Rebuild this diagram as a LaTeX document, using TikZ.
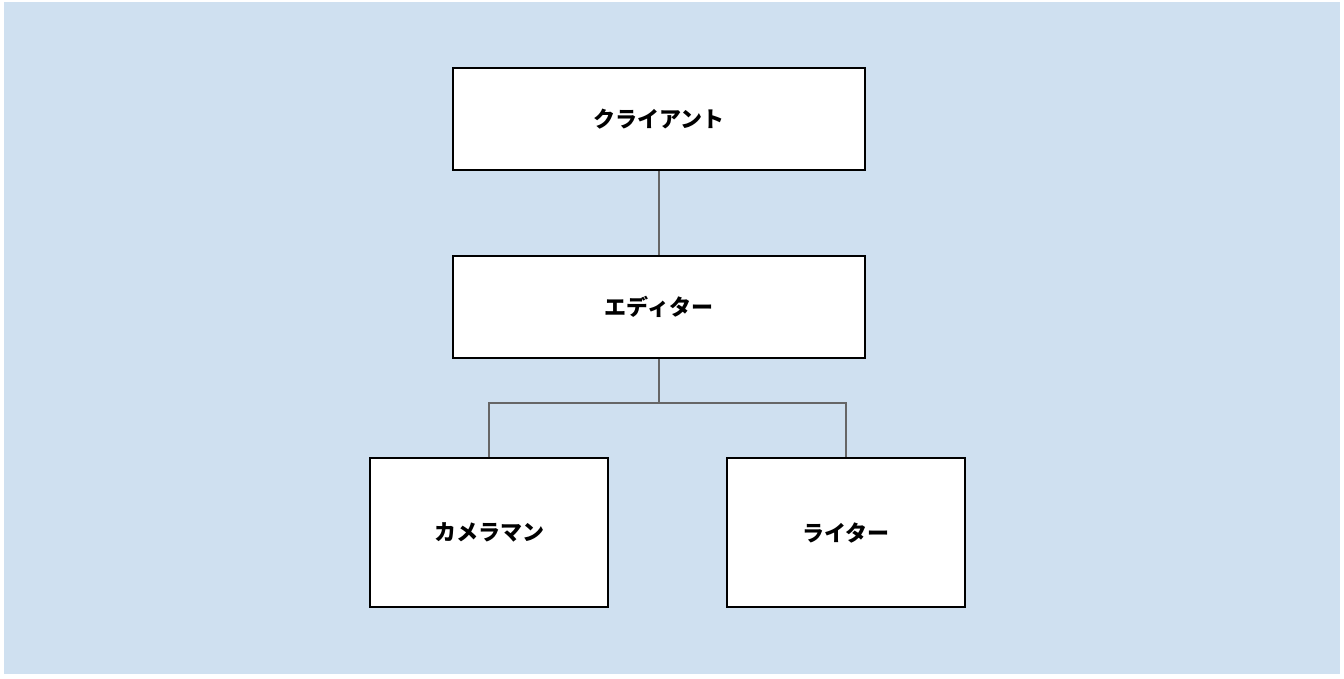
\documentclass[tikz,border=0pt]{standalone}
\usepackage{fontspec}
\newfontfamily\cjk{Noto Sans CJK JP}
\definecolor{bg}{HTML}{CFE0F0}
\definecolor{ln}{HTML}{666666}
\begin{document}
\begin{tikzpicture}[x=1pt,y=-1pt,
  box/.style={draw=black,line width=1.5pt,fill=white,font=\cjk\bfseries\fontsize{22}{26}\selectfont},
  conn/.style={draw=ln,line width=2pt}]
\useasboundingbox (0,0) rectangle (1344,678);
\fill[white] (0,0) rectangle (1344,678);
\fill[bg] (4,2) rectangle (1340,674);
\node[box,minimum width=412pt,minimum height=102pt] (c) at (659,119) {クライアント};
\node[box,minimum width=412pt,minimum height=102pt] (e) at (659,307) {エディター};
\node[box,minimum width=238pt,minimum height=149pt] (k) at (489,532.5) {カメラマン};
\node[box,minimum width=238pt,minimum height=149pt] (w) at (846,532.5) {ライター};
\coordinate (j) at (659,403);
\draw[conn] (c.south) -- (e.north);
\draw[conn] (e.south) -- (j);
\draw[conn] (k.north) |- (j) -| (w.north);
\end{tikzpicture}
\end{document}
